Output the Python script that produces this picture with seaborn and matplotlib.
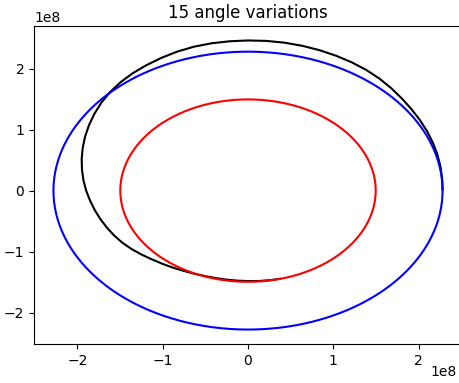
import numpy as np
import pandas as pd
import matplotlib
matplotlib.use("Agg")
import matplotlib.pyplot as plt
import seaborn as sns

# Circular reference orbits (km)
orbit_names = ["Mars", "Earth"]
orbit_radii = [2.279e8, 1.496e8]
orbit_colors = ["blue", "red"]

# Trajectory: polar angle (deg) and radius (1e8 km)
traj_angle_deg = [0, 5, 10, 15, 20, 25, 30, 35, 40, 45, 50, 55, 60, 65, 70, 75,
                  80, 85, 90, 95, 100, 105, 110, 115, 120, 125, 130, 135, 140,
                  145, 150, 155, 160, 165, 170, 175, 180, 185, 190, 195, 200,
                  205, 210, 215, 220, 225, 230, 235, 240, 245, 250, 255, 260,
                  265, 270, 275, 280, 285]
traj_radius_1e8 = [2.279, 2.283, 2.289, 2.296, 2.304, 2.313, 2.323, 2.335,
                   2.352, 2.374, 2.397, 2.416, 2.430, 2.441, 2.451, 2.459,
                   2.464, 2.465, 2.463, 2.459, 2.454, 2.444, 2.426, 2.402,
                   2.377, 2.352, 2.322, 2.286, 2.243, 2.197, 2.150, 2.105,
                   2.060, 2.017, 1.975, 1.935, 1.896, 1.858, 1.824, 1.792,
                   1.762, 1.733, 1.703, 1.668, 1.630, 1.594, 1.565, 1.540,
                   1.518, 1.502, 1.490, 1.484, 1.482, 1.482, 1.484, 1.488,
                   1.492, 1.495]

title_text = "15 angle variations"

fig = plt.figure(figsize=(4.6, 3.83), dpi=100)
ax = fig.add_axes([34 / 460, 39 / 383, 428 / 460, 318 / 383])

# trajectory
ang = np.deg2rad(np.array(traj_angle_deg, dtype=float))
rad = np.array(traj_radius_1e8) * 1e8
traj = pd.DataFrame({"x": rad * np.cos(ang), "y": rad * np.sin(ang)})
sns.lineplot(data=traj, x="x", y="y", sort=False, estimator=None,
             color="black", linewidth=1.5, solid_capstyle="butt", ax=ax)

# circular orbits
theta = np.linspace(0, 2 * np.pi, 721)
for name, r, c in zip(orbit_names, orbit_radii, orbit_colors):
    df = pd.DataFrame({"x": r * np.cos(theta), "y": r * np.sin(theta)})
    sns.lineplot(data=df, x="x", y="y", sort=False, estimator=None,
                 color=c, linewidth=1.5, solid_capstyle="butt", ax=ax)

ax.set_xlabel("")
ax.set_ylabel("")
ax.set_title(title_text)

# x-axis offset label: keep it fully inside the canvas
fig.canvas.draw()
off = ax.xaxis.get_major_formatter().get_offset()
ax.xaxis.get_offset_text().set_visible(False)
fig.text(457 / 460, 1 - 379 / 383, off, ha="right", va="bottom", fontsize=10)

fig.savefig("out.png", dpi=100)
